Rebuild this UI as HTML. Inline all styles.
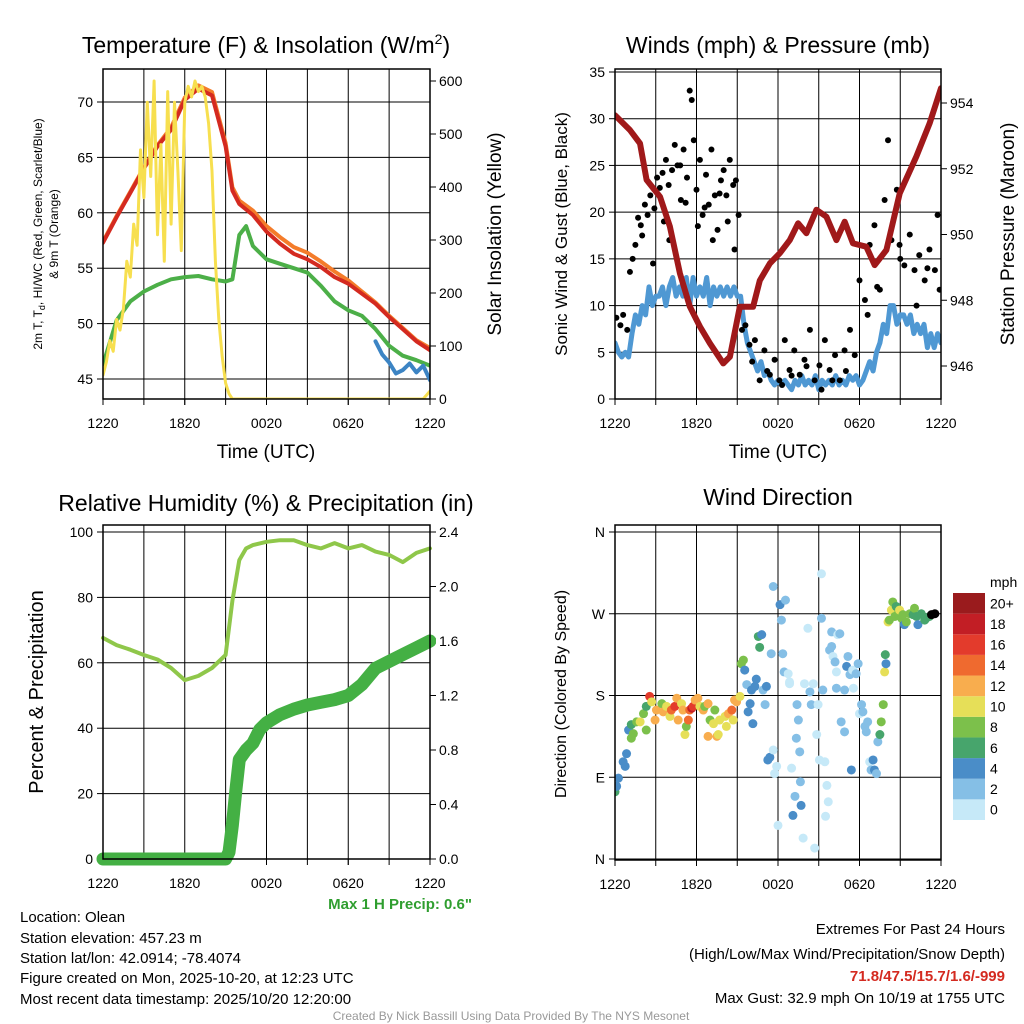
<!DOCTYPE html>
<html><head><meta charset="utf-8"><style>
html,body{margin:0;padding:0;background:#fff;}
svg{display:block;font-family:"Liberation Sans",Arial,sans-serif;}
</style></head><body>
<svg id="c" width="1024" height="1024" viewBox="0 0 1024 1024" xmlns="http://www.w3.org/2000/svg">
<defs>
<clipPath id="cp1"><rect x="103" y="69" width="327" height="330"/></clipPath>
<clipPath id="cp2"><rect x="615" y="69" width="326" height="330"/></clipPath>
<clipPath id="cp3"><rect x="96" y="525" width="340" height="342"/></clipPath>
<clipPath id="cp4"><rect x="615" y="525" width="326" height="336"/></clipPath>
</defs>
<text x="266" y="53" font-size="23" text-anchor="middle">Temperature (F) &amp; Insolation (W/m<tspan font-size="14" dy="-9">2</tspan><tspan dy="9">)</tspan></text>
<text x="778" y="53" font-size="23" text-anchor="middle">Winds (mph) &amp; Pressure (mb)</text>
<text x="266" y="511" font-size="23" text-anchor="middle">Relative Humidity (%) &amp; Precipitation (in)</text>
<text x="778" y="505" font-size="23" text-anchor="middle">Wind Direction</text>
<text x="266" y="458" font-size="19" text-anchor="middle">Time (UTC)</text>
<text x="778" y="458" font-size="19" text-anchor="middle">Time (UTC)</text>
<text transform="translate(42,234) rotate(-90)" font-size="12" text-anchor="middle">2m T, T<tspan font-size="9" dy="3">d</tspan><tspan dy="-3">, HI/WC (Red, Green, Scarlet/Blue)</tspan></text>
<text transform="translate(58,234) rotate(-90)" font-size="12" text-anchor="middle">&amp; 9m T (Orange)</text>
<text transform="translate(501,234) rotate(-90)" font-size="19" text-anchor="middle">Solar Insolation (Yellow)</text>
<text transform="translate(567,234) rotate(-90)" font-size="17" text-anchor="middle">Sonic Wind &amp; Gust (Blue, Black)</text>
<text transform="translate(1014,234) rotate(-90)" font-size="19" text-anchor="middle">Station Pressure (Maroon)</text>
<text transform="translate(43,692) rotate(-90)" font-size="20" text-anchor="middle">Percent &amp; Precipitation</text>
<text transform="translate(566,694) rotate(-90)" font-size="16" text-anchor="middle">Direction (Colored By Speed)</text>
<text x="472" y="909" font-size="15" font-weight="bold" fill="#2f9e2f" text-anchor="end">Max 1 H Precip: 0.6"</text>
<g font-size="15">
<text x="20" y="922">Location: Olean</text>
<text x="20" y="943">Station elevation: 457.23 m</text>
<text x="20" y="963">Station lat/lon: 42.0914; -78.4074</text>
<text x="20" y="983">Figure created on Mon, 2025-10-20, at 12:23 UTC</text>
<text x="20" y="1004">Most recent data timestamp: 2025/10/20 12:20:00</text>
</g>
<g font-size="15" text-anchor="end">
<text x="1005" y="934">Extremes For Past 24 Hours</text>
<text x="1005" y="959">(High/Low/Max Wind/Precipitation/Snow Depth)</text>
<text x="1005" y="981" font-weight="bold" fill="#d42a20">71.8/47.5/15.7/1.6/-999</text>
<text x="1005" y="1003">Max Gust: 32.9 mph On 10/19 at 1755 UTC</text>
</g>
<text x="511" y="1020" font-size="12" fill="#999" text-anchor="middle">Created By Nick Bassill Using Data Provided By The NYS Mesonet</text>
<g id="g"></g>
</svg>
<script>
// ---------- DATA ----------
const hourTicks = [0,6,12,18,24];
const hourTickLabels = ["1220","1820","0020","0620","1220"];
const tempHours = [0,1,2,3,4,5,6,7,8,9,9.5,10,11,12,13,14,15,16,17,18,19,20,21,22,23,24];
const tempRed = [57.3,59.6,61.8,64,66,67.5,70.2,71.2,70.6,66,62,60.8,59.8,58.3,57.2,56.3,55.8,55.1,54.2,53.6,52.7,51.8,50.6,49.5,48.4,47.6];
const tempOrange = [57.4,59.7,61.9,64.1,66.1,67.7,70.4,71.5,70.9,66.3,62.3,61.1,60.2,58.8,57.8,56.9,56.4,55.6,54.7,53.9,52.9,51.9,50.7,49.6,48.5,47.8];
const dewHours = [0,1,2,3,4,5,6,7,8,9,9.5,10,10.5,11,12,13,14,15,16,17,18,19,20,21,22,23,24];
const dewGreen = [46.3,50.3,52,52.9,53.5,54,54.2,54.3,54,53.8,54,58,58.8,57,55.8,55.4,55,54.6,53.4,52,51.2,50.7,49.5,48,47.1,46.7,46.2];
const chillHours = [20,20.5,21,21.5,22,22.5,23,23.5,24];
const chillBlue = [48.4,47.2,46.5,45.5,45.8,46.4,45.6,46.2,44.9];
const solarHours = [0,0.25,0.5,0.75,1,1.25,1.5,1.75,2,2.25,2.5,2.75,3,3.25,3.5,3.75,4,4.25,4.5,4.75,5,5.25,5.5,5.75,6,6.25,6.5,6.75,7,7.25,7.5,7.75,8,8.25,8.5,8.75,9,9.25,9.5,23.5,24];
const solarVals = [45,70,110,90,150,130,170,260,230,330,290,470,380,560,420,600,310,480,260,580,330,560,430,280,560,590,570,600,580,590,570,520,430,260,150,80,30,10,0,0,15];
const presHours = [0,1.1,1.84,2.33,3.31,4.04,4.78,5.51,6.25,6.99,7.97,8.46,9.19,10.17,10.66,11.4,12.13,12.87,13.48,14.09,14.83,15.56,16.3,16.91,17.52,18.5,19.12,19.98,20.96,22.18,23.16,24];
const presVals = [953.63,953.18,952.77,951.66,951.15,950.24,948.82,947.81,947.2,946.69,946.08,946.28,947.8,947.8,948.6,949.12,949.43,949.83,950.34,950.04,950.75,950.54,949.83,950.39,949.73,949.63,949.07,949.53,951.25,952.37,953.38,954.45];
const windVals = [6,5,4.5,5,4.5, 7,9,8,10, 9,12,10,11, 11,12,10,12, 13,11,12,11, 13,10,13,11, 12,11,13,10, 12,11,12,11, 12,11,12,11, 11,8,6,5, 4,3,4,2.5, 3,2,1.5,2, 1.5,2,1.5,1, 2,1.5,2.5,1.5, 2,1.5,2.5,1, 2,1.5,2,1.5, 2.5,1.5,2,1.5, 2.5,2,2.5,1.5, 2,3,4,3, 5,6,8,7, 10,10,8,9, 9,8,9,7, 8,7,8,5.5, 7,5.5,7,6];
const gustHours = [0.1,0.4,0.6,0.9,1.1,1.3,1.5,1.7,1.9,2.2,2.4,2.6,2.9,3.1,3.3,3.5,3.75,3.95,4.2,4.4,4.6,4.85,5.05,5.3,5.5,5.65,5.8,6.0,6.25,6.45,6.7,6.9,7.1,7.35,7.55,7.8,8.0,8.2,8.45,8.7,8.9,9.1,9.35,9.6,9.9,10.3,10.65,11.0,11.4,11.75,12.1,12.5,12.85,13.2,13.6,13.95,14.35,14.7,15.05,15.45,15.8,16.2,16.55,16.9,17.3,17.65,18.0,18.4,18.75,19.1,19.5,19.85,20.1,20.35,20.75,20.95,21.3,21.7,22.05,22.4,22.8,23.15,23.55,23.75,23.9,2.0,2.8,3.6,4.0,4.8,5.2,6.1,6.6,7.2,7.7,8.3,8.8,10.1,11.2,12.3,13.0,14.1,15.2,16.0,17.0,18.6,19.3,21.0,22.2,23.0];
const gustVals = [8.7,7.9,9,7.4,13.6,15,16.5,19.4,18.6,20.8,19.7,21.8,20.4,23.7,22.6,24.2,25.6,22.9,24.5,27.2,25,21.3,26.7,23.7,33,32,27.7,22.4,25.6,19.7,24,20.8,26.7,21.8,18.1,23.4,24.5,21.8,25.6,22.9,23.4,19.7,7.4,7.9,5.8,6.3,2,5.2,2.6,4.2,2,6.3,3.1,5.2,2.6,4.2,7.4,2,3.6,6.3,3.1,4.7,2,5.2,7.4,4.7,12.7,10.6,16.5,18.6,11.7,21.3,27.7,17,22.4,16.5,14.3,17.6,13.8,15.4,12.7,16,13.8,19.7,11.7,17.5,14.5,19,17,25,21,18.5,20.5,17,22,19,16,4,3,1.5,2.5,3.5,1,2,3,9,12,15,10,14];
const rhHours = [0,1,2,3,4,5,6,7,8,9,9.5,10,10.5,11,12,13,14,15,16,17,18,19,20,21,22,23,24];
const rhVals = [67.6,65.4,64,62.4,61,58.4,54.7,56,58.4,62.4,79,91.4,95,96,97,97.5,97.5,96,95,96.6,95,96,94,93,90.8,93.6,95];
const precipHours = [0,9,9.25,9.5,9.75,10,10.5,11,11.5,12,13,14,15,16,17,18,19,20,21,22,23,24];
const precipVals = [0,0,0.05,0.25,0.5,0.73,0.8,0.85,0.95,1.0,1.06,1.1,1.13,1.15,1.17,1.2,1.28,1.4,1.45,1.5,1.55,1.6];
const dirHours = [0,0.12,0.25,0.75,0.6,0.85,1.0,1.2,1.35,1.2,1.6,1.85,2.1,2.3,2.3,2.55,2.7,2.95,3.05,3.45,3.55,3.8,4.05,4.15,4.4,4.55,4.65,4.9,5.0,5.15,5.25,5.4,5.5,5.65,5.75,5.9,6.1,6.25,6.5,6.6,6.85,7.0,6.85,7.25,7.35,7.5,7.6,7.7,8.1,8.2,8.35,8.6,8.7,8.8,8.95,9.2,9.3,9.45,9.55,9.7,9.8,9.95,10.05,10.15,10.3,10.4,10.55,10.65,10.8,10.9,11.05,11.15,11.25,11.4,11.5,11.65,11.65,11.75,11.9,12.0,12.15,12.25,12.35,12.45,12.55,12.75,12.85,12.85,13.0,13.1,13.25,13.4,13.5,13.35,13.6,13.65,13.7,13.85,13.95,14.2,14.35,14.45,14.6,14.7,14.85,14.95,15.05,15.2,15.2,15.3,15.45,15.5,15.6,15.7,15.8,15.95,15.95,16.05,16.2,16.3,16.3,16.4,16.55,16.65,16.9,16.9,17.05,17.15,17.3,17.4,17.5,17.55,17.75,17.9,18.0,18.15,18.25,18.4,18.5,18.6,18.75,18.85,19.0,19.1,19.25,19.35,19.5,19.6,19.75,19.85,19.9,19.95,20.1,20.2,20.35,20.45,20.6,20.7,20.85,20.95,21.1,21.2,21.3,21.45,21.7,21.95,22.05,22.2,22.3,22.55,22.8,22.9,23.15,23.3,23.55,23.75,24.0];
const dirDeg = [74,80,89,102,107,116,142,133,138,148,151,151,160,142,168,179,173,153,164,171,162,168,157,164,168,177,153,171,164,137,146,153,164,166,168,175,177,168,164,168,171,153,135,149,164,135,137,153,157,146,160,164,153,175,173,179,215,219,208,192,162,171,186,149,190,198,245,233,247,186,170,190,109,112,226,300,120,94,102,37,280,263,226,206,285,204,195,193,100,48,69,170,153,133,118,85,59,23,193,254,184,170,193,12,137,170,109,314,265,186,107,47,81,63,230,250,234,223,217,188,206,247,248,151,186,140,212,223,203,98,208,188,204,215,160,170,162,146,140,151,107,98,109,98,94,129,137,151,170,206,225,215,261,263,274,283,267,278,270,274,265,269,258,261,270,269,276,267,258,270,263,265,267,269,270];
const dirSpd = [6,4,4,4,4,4,4,8,8,6,8,10,8,8,6,16,10,12,12,8,12,10,10,14,16,12,12,10,12,10,8,14,14,18,16,12,12,10,12,8,12,8,12,10,8,12,10,10,10,10,12,14,10,12,12,10,8,8,4,3,4,4,4,4,4,4,6,6,4,3,3,4,4,4,3,3,1,1,1,1,4,2,3,3,3,1,1,1,1,4,3,3,3,3,3,3,4,1,1,1,3,3,1,1,1,1,1,1,2,3,1,1,1,1,3,3,3,1,3,3,1,1,3,3,3,3,4,3,3,4,1,1,3,3,1,3,3,3,3,3,1,3,4,4,3,3,6,8,8,10,6,4,10,8,10,8,8,6,8,10,8,8,4,8,8,6,8,6,4,6,6,6,6];
const speedBinLabels = ["0","2","4","6","8","10","12","14","16","18","20+"];
const speedColors = ["#c6e9f8","#85bfe6","#4a8dc8","#47a56c","#7cc04b","#e6df58","#f8ad4e","#ef6a2f","#e33b2c","#c21e25","#9a1b1d"];

// ---------- SCALES ----------
const NS="http://www.w3.org/2000/svg";
const G=document.getElementById('g');
function lin(d0,d1,r0,r1){return v=>r0+(v-d0)*(r1-r0)/(d1-d0);}
const P1={x0:103,x1:430,y0:69,y1:399};
const P2={x0:615,x1:941,y0:69,y1:399};
const P3={x0:103,x1:430,y0:525,y1:859};
const P4={x0:615,x1:941,y0:525,y1:860};
const X1=lin(0,24,103,430), X2=lin(0,24,615,941);
const YT=lin(45,70,379,102), YS=lin(0,600,399,81);
const YW=lin(0,35,399,72), YP=lin(946,954,366,103);
const YR=lin(0,100,859,532), YQ=lin(0,2.4,859,532);
const YD=lin(0,360,859,532);
function el(tag,attrs,parent){const e=document.createElementNS(NS,tag);for(const k in attrs)e.setAttribute(k,attrs[k]);(parent||G).appendChild(e);return e;}
function txt(x,y,s,size,anchor,parent){const t=el('text',{x:x,y:y,'font-size':size,'text-anchor':anchor},parent);t.textContent=s;return t;}

function frame(P,name,xs,ysL,ysR,gridYs){
  const g=el('g',{});
  
  
  for(let h=3;h<24;h+=3){el('line',{x1:xs(h),x2:xs(h),y1:P.y0,y2:P.y1+6,stroke:'#000','stroke-width':1},g);}
  gridYs.forEach(y=>el('line',{x1:P.x0,x2:P.x1,y1:y,y2:y,stroke:'#000','stroke-width':1},g));
  hourTicks.forEach((h,i)=>{el('line',{x1:xs(h),x2:xs(h),y1:P.y1,y2:P.y1+6,stroke:'#000'},g);
    const t=txt(xs(h),P.y1+29,hourTickLabels[i],14,'middle',g);
    
    });
  ysL.forEach(o=>{el('line',{x1:P.x0-6,x2:P.x0,y1:o.y,y2:o.y,stroke:'#000'},g);
    const t=txt(P.x0-10,o.y+5,o.l,14,'end',g);
    
    });
  ysR.forEach(o=>{el('line',{x1:P.x1,x2:P.x1+6,y1:o.y,y2:o.y,stroke:'#000'},g);
    const t=txt(P.x1+9,o.y+5,o.l,14,'start',g);
    
    });
  return g;
}
function line(xs,ys,hs,vs,color,w,clip,name){
  const d=hs.map((h,i)=>(i?'L':'M')+xs(h).toFixed(1)+','+ys(vs[i]).toFixed(1)).join('');
  const p=el('path',{d:d,fill:'none',stroke:color,'stroke-width':w,'stroke-linejoin':'round','stroke-linecap':'round','clip-path':'url(#'+clip+')'});
  
  
  return p;
}

// Panel 1
(function(){
  const tL=[45,50,55,60,65,70].map(v=>({y:YT(v),l:String(v)}));
  const tR=[0,100,200,300,400,500,600].map(v=>({y:YS(v),l:String(v)}));
  frame(P1,'temperature',X1,tL,tR,tL.map(o=>o.y));
  line(X1,YT,dewHours,dewGreen,'#4caf48',4,'cp1','dewpoint-line');
  line(X1,YT,tempHours,tempOrange,'#f47c2a',4,'cp1','9m-temperature-line');
  line(X1,YT,tempHours,tempRed,'#d42a20',4,'cp1','2m-temperature-line');
  line(X1,YT,chillHours,chillBlue,'#3c84c4',4,'cp1','wind-chill-line');
  line(X1,YS,solarHours,solarVals,'#f7df4f',3,'cp1','solar-insolation-line');
  const r=el('rect',{x:P1.x0,y:P1.y0,width:P1.x1-P1.x0,height:P1.y1-P1.y0,fill:'none',stroke:'#000','stroke-width':1.5});
  
  
})();

// Panel 2
(function(){
  const tL=[0,5,10,15,20,25,30,35].map(v=>({y:YW(v),l:String(v)}));
  const tR=[946,948,950,952,954].map(v=>({y:YP(v),l:String(v)}));
  frame(P2,'winds',X2,tL,tR,tL.map(o=>o.y));
  const wh=windVals.map((v,i)=>i/4);
  line(X2,YW,wh,windVals,'#4f98d3',5,'cp2','sonic-wind-line');
  gustHours.forEach((h,i)=>{const c=el('circle',{cx:X2(h),cy:YW(gustVals[i]),r:3,fill:'#000','clip-path':'url(#cp2)'});
    
    });
  line(X2,YP,presHours,presVals,'#a0191a',6,'cp2','pressure-line');
  const r=el('rect',{x:P2.x0,y:P2.y0,width:P2.x1-P2.x0,height:P2.y1-P2.y0,fill:'none',stroke:'#000','stroke-width':1.5});
  
  
})();

// Panel 3
(function(){
  const tL=[0,20,40,60,80,100].map(v=>({y:YR(v),l:String(v)}));
  const tR=[0,0.4,0.8,1.2,1.6,2.0,2.4].map(v=>({y:YQ(v),l:v.toFixed(1)}));
  frame(P3,'humidity',X1,tL,tR,tL.map(o=>o.y));
  line(X1,YR,rhHours,rhVals,'#8fc74a',4,'cp3','relative-humidity-line');
  line(X1,YQ,precipHours,precipVals,'#44b044',13,'cp3','precipitation-line');
  const r=el('rect',{x:P3.x0,y:P3.y0,width:P3.x1-P3.x0,height:P3.y1-P3.y0,fill:'none',stroke:'#000','stroke-width':1.5});
  
  
})();

// Panel 4
(function(){
  const tL=[0,90,180,270,360].map((v,i)=>({y:YD(v),l:["N","E","S","W","N"][i]}));
  frame(P4,'wind-direction',X2,tL,[],tL.map(o=>o.y));
  dirHours.forEach((h,i)=>{const b=Math.min(10,Math.floor(dirSpd[i]/2));
    const c=el('circle',{cx:X2(Math.min(h,24)),cy:YD(dirDeg[i]),r:4.5,fill:speedColors[b],'clip-path':'url(#cp4)'});
    
    });
  const r=el('rect',{x:P4.x0,y:P4.y0,width:P4.x1-P4.x0,height:P4.y1-P4.y0,fill:'none',stroke:'#000','stroke-width':1.5});
  
  
  const cb=el('g',{});
  
  
  const top=593,bh=227/11;
  speedColors.forEach((c,i)=>{const y=top+(10-i)*bh;
    el('rect',{x:953,y:y,width:32,height:bh,fill:c},cb);
    const t=txt(990,y+bh/2+5,speedBinLabels[i],14,'start',cb);
    
    });
  const m=txt(990,587,'mph',14,'start',cb);
  
  
})();
</script>
</body></html>
